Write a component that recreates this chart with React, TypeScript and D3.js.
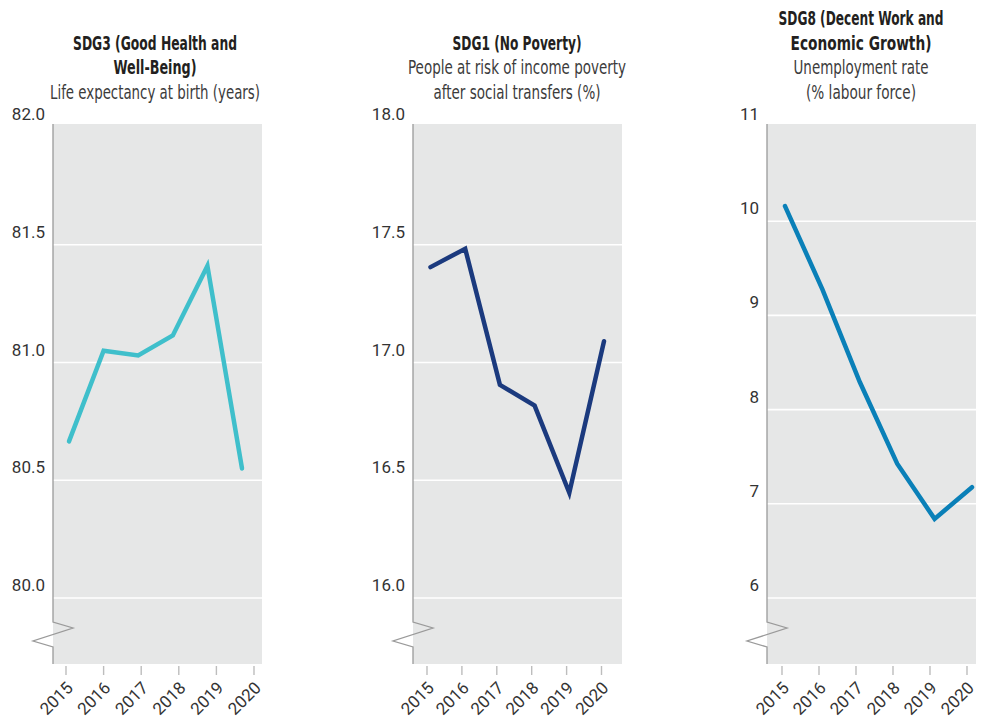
import React from "react";
import * as d3 from "d3";

// data
const years = [2015, 2016, 2017, 2018, 2019, 2020];
const lifeExpectancy = [80.665, 81.05, 81.03, 81.115, 81.41, 80.55];
const povertyRisk = [17.405, 17.483, 16.905, 16.817, 16.447, 17.09];
const unemployment = [10.16, 9.276, 8.293, 7.425, 6.84, 7.176];

const lifeTicks = [80, 80.5, 81, 81.5, 82];
const povertyTicks = [16, 16.5, 17, 17.5, 18];
const unemploymentTicks = [6, 7, 8, 9, 10, 11];

const W = 981;
const H = 720;
const PANEL_W = 209;
const BG_TOP = 124;
const BG_BOTTOM = 664;
const Y_RANGE = [598, 127];

const TITLE_FONT = "'Liberation Sans Narrow', 'DejaVu Sans Condensed', 'Open Sans', sans-serif";
const TICK_FONT = "Roboto, 'Noto Sans', sans-serif";

const panels = [
  {
    bold: ["SDG3 (Good Health and", "Well-Being)"],
    boldW: [164, 83],
    sub: ["Life expectancy at birth (years)"],
    subW: [210],
    values: lifeExpectancy,
    ticks: lifeTicks,
    fmt: d3.format(".1f"),
    color: "#3fbfcb",
    axisX: 53,
    titleX: 155,
    lineRange: [16, 189],
    tickRange: [13, 201],
  },
  {
    bold: ["SDG1 (No Poverty)"],
    boldW: [129],
    sub: ["People at risk of income poverty", "after social transfers (%)"],
    subW: [218, 167],
    values: povertyRisk,
    ticks: povertyTicks,
    fmt: d3.format(".1f"),
    color: "#1b3a7e",
    axisX: 413,
    titleX: 517,
    lineRange: [17.5, 191],
    tickRange: [14, 188.5],
  },
  {
    bold: ["SDG8 (Decent Work and", "Economic Growth)"],
    boldW: [165, 141],
    sub: ["Unemployment rate", "(% labour force)"],
    subW: [135, 110],
    values: unemployment,
    ticks: unemploymentTicks,
    fmt: d3.format("d"),
    color: "#0a80b8",
    axisX: 767,
    titleX: 861,
    lineRange: [18, 205],
    tickRange: [15, 200],
  },
];

const Panel = ({ p }) => {
  const y = d3
    .scaleLinear()
    .domain([p.ticks[0], p.ticks[p.ticks.length - 1]])
    .range(Y_RANGE);
  const xLine = d3
    .scalePoint()
    .domain(years.map(String))
    .range([p.axisX + p.lineRange[0], p.axisX + p.lineRange[1]]);
  const xTick = d3
    .scalePoint()
    .domain(years.map(String))
    .range([p.axisX + p.tickRange[0], p.axisX + p.tickRange[1]]);

  const line = d3
    .line()
    .x((d, i) => xLine(String(years[i])))
    .y((d) => y(d));

  const lines = [
    ...p.bold.map((t, i) => ({ t, w: p.boldW[i], bold: true })),
    ...p.sub.map((t, i) => ({ t, w: p.subW[i], bold: false })),
  ];
  const n = lines.length;

  const ax = p.axisX;
  const breakPts = [
    [ax, BG_TOP],
    [ax, 622],
    [ax + 20, 628],
    [ax - 20, 641],
    [ax, 647],
    [ax, BG_BOTTOM],
  ];

  return (
    <g>
      {lines.map((l, i) => (
        <text
          key={i}
          x={p.titleX}
          y={98.5 - (n - 1 - i) * 24.5}
          textAnchor="middle"
          fontFamily={TITLE_FONT}
          fontStretch="condensed"
          fontSize={l.bold ? 19 : 20}
          fontWeight={l.bold ? 700 : 400}
          fill={l.bold ? "#231f20" : "#3c3c3c"}
          textLength={l.w}
          lengthAdjust="spacingAndGlyphs"
        >
          {l.t}
        </text>
      ))}

      <rect x={ax} y={BG_TOP} width={PANEL_W} height={BG_BOTTOM - BG_TOP} fill="#e6e7e7" />

      {p.ticks.slice(0, -1).map((t) => (
        <line key={t} x1={ax} x2={ax + PANEL_W} y1={y(t)} y2={y(t)} stroke="#fff" strokeWidth={1.6} />
      ))}

      {p.ticks.map((t) => (
        <text
          key={t}
          x={ax - 8}
          y={y(t) - 7}
          textAnchor="end"
          fontFamily={TICK_FONT}
          fontSize={17}
          fill="#333"
        >
          {p.fmt(t)}
        </text>
      ))}

      <polyline points={breakPts.map((d) => d.join(",")).join(" ")} fill="none" stroke="#9a9a9a" strokeWidth={1.3} />

      {years.map((yr) => {
        const tx = xTick(String(yr));
        return (
          <g key={yr}>
            <line x1={tx} x2={tx} y1={666} y2={675} stroke="#bdbdbd" strokeWidth={1.4} />
            <text
              transform={`translate(${tx + 8},${689}) rotate(-45)`}
              textAnchor="end"
              fontFamily={TICK_FONT}
              fontSize={17}
              fill="#333"
            >
              {yr}
            </text>
          </g>
        );
      })}

      <path
        d={line(p.values)}
        fill="none"
        stroke={p.color}
        strokeWidth={4.5}
        strokeLinecap="round"
        strokeLinejoin="miter"
      />
    </g>
  );
};

export default function App() {
  return (
    <div style={{ position: "absolute", left: 0, top: 0 }}>
      <svg width={W} height={H} style={{ display: "block", background: "#fff" }}>
        {panels.map((p, i) => (
          <Panel key={i} p={p} />
        ))}
      </svg>
    </div>
  );
}
